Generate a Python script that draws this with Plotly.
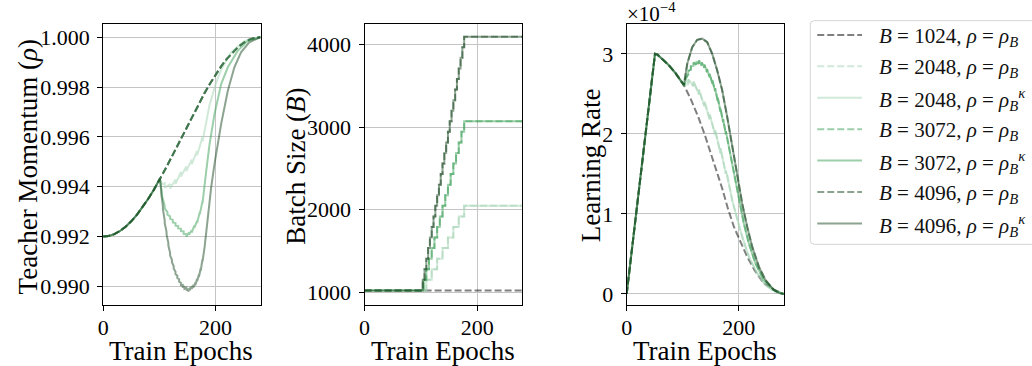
import plotly.graph_objects as go

# ---------------- data ----------------
# Teacher momentum: shared rho_B schedule (dashed curves), sampled every 10 epochs
mom_epochs = [0, 10, 20, 30, 40, 50, 60, 70, 80, 90, 100, 110, 120, 130, 140,
              150, 160, 170, 180, 190, 200, 210, 220, 230, 240, 250, 260, 270, 280]
mom_base = [0.992000, 0.992025, 0.992100, 0.992224, 0.992396, 0.992613, 0.992873,
            0.993172, 0.993506, 0.993872, 0.994264, 0.994679, 0.995110, 0.995552,
            0.996000, 0.996448, 0.996890, 0.997321, 0.997736, 0.998128, 0.998494,
            0.998828, 0.999127, 0.999387, 0.999604, 0.999776, 0.999900, 0.999975,
            1.000000]

# rho_B^kappa curves after the batch ramp starts (epoch > 100)
mom_k2048_epochs = [101, 105, 109.6, 109.6, 119.2, 119.2, 128.8, 128.8, 138.4, 138.4,
                    148, 148, 157.6, 157.6, 167.2, 167.2, 176.8, 176.8, 181, 189,
                    200, 210, 228, 251, 280]
mom_k2048 = [0.99432, 0.99410, 0.99414, 0.99396, 0.99411, 0.99393, 0.99429, 0.99411,
             0.99459, 0.99441, 0.99481, 0.99463, 0.99509, 0.99491, 0.99544, 0.99526,
             0.99599, 0.99581, 0.99635, 0.99725, 0.99810, 0.99870, 0.99940, 0.99984,
             1.00000]
mom_k3072_epochs = [101, 104.8, 104.8, 109.6, 109.6, 114.4, 114.4, 119.2, 119.2, 124, 124,
                    128.8, 128.8, 133.6, 133.6, 138.4, 138.4, 143.2, 143.2, 148, 148,
                    152.8, 152.8, 157.6, 157.6, 162.4, 162.4, 167.2, 167.2, 172, 172,
                    176.8, 176.8, 183.5, 189.4, 198.2, 210, 221.8, 239.4, 257, 280]
mom_k3072 = [0.99432, 0.99374, 0.99364, 0.99323, 0.99313, 0.99298, 0.99288, 0.99281,
             0.99271, 0.99267, 0.99257, 0.99254, 0.99244, 0.99243, 0.99233, 0.99232,
             0.99222, 0.99221, 0.99211, 0.99210, 0.99200, 0.99217, 0.99207, 0.99226,
             0.99216, 0.99245, 0.99235, 0.99264, 0.99254, 0.99299, 0.99289, 0.99343,
             0.99333, 0.99465, 0.99572, 0.99692, 0.99812, 0.99879, 0.99945, 0.99984,
             1.00000]
mom_k4096_epochs = [101, 103.2, 103.2, 106.4, 106.4, 109.6, 109.6, 112.8, 112.8, 116, 116,
                    119.2, 119.2, 122.4, 122.4, 125.6, 125.6, 128.8, 128.8, 132, 132,
                    135.2, 135.2, 138.4, 138.4, 141.6, 141.6, 144.8, 144.8, 148, 148,
                    151.2, 151.2, 154.4, 154.4, 157.6, 157.6, 160.8, 160.8, 164, 164,
                    167.2, 167.2, 170.4, 170.4, 173.6, 173.6, 176.8, 176.8, 180.6,
                    186.4, 192.3, 198.2, 210, 221.8, 233.5, 245.3, 260, 280]
mom_k4096 = [0.99432, 0.99386, 0.99376, 0.99320, 0.99310, 0.99264, 0.99254, 0.99219,
             0.99209, 0.99175, 0.99165, 0.99134, 0.99124, 0.99107, 0.99097, 0.99081,
             0.99071, 0.99059, 0.99049, 0.99044, 0.99034, 0.99029, 0.99019, 0.99015,
             0.99005, 0.99006, 0.98996, 0.99001, 0.98991, 0.98995, 0.98985, 0.98990,
             0.98980, 0.98995, 0.98985, 0.99001, 0.98991, 0.99006, 0.98996, 0.99015,
             0.99005, 0.99031, 0.99021, 0.99048, 0.99038, 0.99073, 0.99063, 0.99110,
             0.99100, 0.99159, 0.99279, 0.99399, 0.99492, 0.99652, 0.99785, 0.99879,
             0.99939, 0.99979, 1.00000]

# Batch size staircases (value holds until next epoch)
bs1024_epochs = [0, 280]
bs1024 = [1024, 1024]
bs2048_epochs = [0, 109.6, 119.2, 128.8, 138.4, 148, 157.6, 167.2, 176.8, 280]
bs2048 = [1024, 1152, 1280, 1408, 1536, 1664, 1792, 1920, 2048, 2048]
bs3072_epochs = [0, 104.8, 109.6, 114.4, 119.2, 124, 128.8, 133.6, 138.4, 143.2, 148,
                 152.8, 157.6, 162.4, 167.2, 172, 176.8, 280]
bs3072 = [1024, 1152, 1280, 1408, 1536, 1664, 1792, 1920, 2048, 2176, 2304, 2432,
          2560, 2688, 2816, 2944, 3072, 3072]
bs4096_epochs = [0, 103.2, 106.4, 109.6, 112.8, 116, 119.2, 122.4, 125.6, 128.8, 132,
                 135.2, 138.4, 141.6, 144.8, 148, 151.2, 154.4, 157.6, 160.8, 164,
                 167.2, 170.4, 173.6, 176.8, 280]
bs4096 = [1024, 1152, 1280, 1408, 1536, 1664, 1792, 1920, 2048, 2176, 2304, 2432, 2560,
          2688, 2816, 2944, 3072, 3200, 3328, 3456, 3584, 3712, 3840, 3968, 4096, 4096]

# Learning rate (units of 1e-4): shared warmup/decay part, then per batch size
lr_common_epochs = [0, 50.5, 55, 63.5, 75, 87, 99]
lr_common = [0.0, 3.0, 2.99, 2.93, 2.86, 2.76, 2.65]
lr1024_epochs = [102, 113.9, 127.6, 139.5, 149.5, 159.6, 170.3, 180.4, 191.1, 202.8,
                 214.8, 227.8, 244.4, 263.4, 280]
lr1024 = [2.61, 2.44, 2.212, 1.983, 1.775, 1.546, 1.318, 1.069, 0.840, 0.653, 0.466,
          0.299, 0.133, 0.05, 0.0]
lr2048_epochs = [102, 109.6, 109.6, 119.2, 119.2, 128.8, 128.8, 138.4, 138.4, 148, 148,
                 157.6, 157.6, 167.2, 167.2, 176.8, 176.8, 179.2, 188.1, 197, 205.9,
                 217.8, 232.6, 247.3, 264, 280]
lr2048 = [2.61, 2.62, 2.68, 2.597, 2.657, 2.493, 2.553, 2.349, 2.409, 2.182, 2.242,
          1.991, 2.051, 1.762, 1.822, 1.50, 1.54, 1.48, 1.172, 0.94, 0.716, 0.466,
          0.258, 0.112, 0.03, 0.0]
lr3072_epochs = [102, 104.8, 104.8, 109.6, 109.6, 114.4, 114.4, 119.2, 119.2, 124, 124,
                 128.8, 128.8, 133.6, 133.6, 138.4, 138.4, 143.2, 143.2, 148, 148,
                 152.8, 152.8, 157.6, 157.6, 162.4, 162.4, 167.2, 167.2, 172, 172,
                 176.8, 176.8, 182.2, 191.1, 200, 208.9, 217.8, 229.5, 244.4, 262.3, 280]
lr3072 = [2.61, 2.647, 2.687, 2.744, 2.784, 2.805, 2.845, 2.850, 2.890, 2.866, 2.906,
          2.877, 2.917, 2.854, 2.894, 2.827, 2.867, 2.771, 2.811, 2.709, 2.749, 2.630,
          2.670, 2.532, 2.572, 2.409, 2.449, 2.279, 2.319, 2.145, 2.185, 1.994, 2.034,
          1.838, 1.505, 1.172, 0.881, 0.632, 0.383, 0.175, 0.05, 0.0]
lr4096_epochs = [102, 108, 116.9, 125.8, 134.7, 143.6, 152.5, 161.4, 170.3, 179.2,
                 188.1, 197, 205.9, 214.8, 223.7, 235.6, 247.3, 262.3, 272, 280]
lr4096 = [2.61, 2.877, 3.085, 3.176, 3.19, 3.147, 3.0, 2.793, 2.544, 2.212, 1.838,
          1.464, 1.131, 0.840, 0.591, 0.342, 0.175, 0.05, 0.01, 0.0]

legend_labels = [
    "<i>B</i> = 1024, <i>ρ</i> = <i>ρ<sub>B</sub></i>",
    "<i>B</i> = 2048, <i>ρ</i> = <i>ρ<sub>B</sub></i>",
    "<i>B</i> = 2048, <i>ρ</i> = <i>ρ<sub>B</sub><sup>κ</sup></i>",
    "<i>B</i> = 3072, <i>ρ</i> = <i>ρ<sub>B</sub></i>",
    "<i>B</i> = 3072, <i>ρ</i> = <i>ρ<sub>B</sub><sup>κ</sup></i>",
    "<i>B</i> = 4096, <i>ρ</i> = <i>ρ<sub>B</sub></i>",
    "<i>B</i> = 4096, <i>ρ</i> = <i>ρ<sub>B</sub><sup>κ</sup></i>",
]

# ---------------- style ----------------
FONT = "Liberation Serif"
col = {
    1024: "rgba(0,0,0,0.5)",
    2048: "rgba(161,211,177,0.5)",
    3072: "rgba(57,159,85,0.5)",
    4096: "rgba(25,72,33,0.5)",
}
DASH = "7px,3px"
LW = 2
series_style = [(col[1024], DASH), (col[2048], DASH), (col[2048], "solid"),
                (col[3072], DASH), (col[3072], "solid"), (col[4096], DASH),
                (col[4096], "solid")]

W, H = 1032, 366


def px_x(v):
    return v / W


def px_y(v):
    return 1 - v / H


fig = go.Figure()


def add(x, y, xa, ya, idx, shape="linear"):
    color, dash = series_style[idx]
    fig.add_trace(go.Scatter(
        x=x, y=y, xaxis=xa, yaxis=ya, mode="lines",
        line=dict(color=color, width=LW, dash=dash, shape=shape),
        name=legend_labels[idx], legendgroup=str(idx),
        showlegend=False, hoverinfo="skip"))


# panel 1: teacher momentum
pre_e = mom_epochs[:11]
pre_v = mom_base[:11]
add(mom_epochs, mom_base, "x", "y", 0)
add(mom_epochs, mom_base, "x", "y", 1)
add(pre_e + mom_k2048_epochs, pre_v + mom_k2048, "x", "y", 2)
add(mom_epochs, mom_base, "x", "y", 3)
add(pre_e + mom_k3072_epochs, pre_v + mom_k3072, "x", "y", 4)
add(mom_epochs, mom_base, "x", "y", 5)
add(pre_e + mom_k4096_epochs, pre_v + mom_k4096, "x", "y", 6)

# panel 2: batch size
add(bs1024_epochs, bs1024, "x2", "y2", 0, "hv")
add(bs2048_epochs, bs2048, "x2", "y2", 1, "hv")
add(bs2048_epochs, bs2048, "x2", "y2", 2, "hv")
add(bs3072_epochs, bs3072, "x2", "y2", 3, "hv")
add(bs3072_epochs, bs3072, "x2", "y2", 4, "hv")
add(bs4096_epochs, bs4096, "x2", "y2", 5, "hv")
add(bs4096_epochs, bs4096, "x2", "y2", 6, "hv")

# panel 3: learning rate
add(lr_common_epochs + lr1024_epochs, lr_common + lr1024, "x3", "y3", 0)
add(lr_common_epochs + lr2048_epochs, lr_common + lr2048, "x3", "y3", 1)
add(lr_common_epochs + lr2048_epochs, lr_common + lr2048, "x3", "y3", 2)
add(lr_common_epochs + lr3072_epochs, lr_common + lr3072, "x3", "y3", 3)
add(lr_common_epochs + lr3072_epochs, lr_common + lr3072, "x3", "y3", 4)
add(lr_common_epochs + lr4096_epochs, lr_common + lr4096, "x3", "y3", 5)
add(lr_common_epochs + lr4096_epochs, lr_common + lr4096, "x3", "y3", 6)

axis_common = dict(
    showline=True, linecolor="black", linewidth=1.2, mirror=True,
    ticks="outside", ticklen=5, tickwidth=1.2, tickcolor="black",
    showgrid=True, gridcolor="#c4c4c4", gridwidth=1, zeroline=False,
    tickfont=dict(family=FONT, size=22, color="black"),
)
ydom = [px_y(306), px_y(24)]
xdoms = [[px_x(97.7), px_x(256)], [px_x(360.7), px_x(519.3)], [px_x(624.3), px_x(782.3)]]

layout = dict(
    width=W, height=H, margin=dict(l=0, r=0, t=0, b=0),
    paper_bgcolor="white", plot_bgcolor="white",
    font=dict(family=FONT, size=20, color="black"),
    showlegend=False,
)
for i, name in enumerate(["xaxis", "xaxis2", "xaxis3"]):
    layout[name] = dict(axis_common, domain=xdoms[i], range=[0, 280],
                        tickvals=[0, 200], anchor=["y", "y2", "y3"][i],
                        ticklabelstandoff=-3)
layout["yaxis"] = dict(axis_common, domain=ydom, range=[0.98925, 1.00053],
                       tickvals=[0.990, 0.992, 0.994, 0.996, 0.998, 1.000],
                       tickformat=".3f", anchor="x", ticklabelstandoff=3)
layout["yaxis2"] = dict(axis_common, domain=ydom, range=[845, 4251],
                        tickvals=[1000, 2000, 3000, 4000], anchor="x2",
                        ticklabelstandoff=3)
layout["yaxis3"] = dict(axis_common, domain=ydom, range=[-0.14, 3.374],
                        tickvals=[0, 1, 2, 3], anchor="x3", ticklabelstandoff=3)
fig.update_layout(**layout)

ann_font = dict(family=FONT, size=27, color="black")
annotations = [
    dict(text="Teacher Momentum (<i>ρ</i>)", x=px_x(22), y=px_y(167), textangle=-90),
    dict(text="Batch Size (<i>B</i>)", x=px_x(291), y=px_y(167), textangle=-90),
    dict(text="Learning Rate", x=px_x(588), y=px_y(166), textangle=-90),
    dict(text="Train Epochs", x=px_x(176.5), y=px_y(352)),
    dict(text="Train Epochs", x=px_x(439.5), y=px_y(352)),
    dict(text="Train Epochs", x=px_x(703), y=px_y(352)),
]
for a in annotations:
    fig.add_annotation(xref="paper", yref="paper", showarrow=False,
                       xanchor="center", yanchor="middle", font=ann_font, **a)
fig.add_annotation(text="×10<sup>−4</sup>", xref="paper", yref="paper",
                   x=px_x(623), y=px_y(13), xanchor="left", yanchor="middle",
                   showarrow=False, font=dict(family=FONT, size=21, color="black"))

# ---------------- legend (drawn as a framed key) ----------------
bx0, by0, bx1, by1, r = 809, 20.7, 1045, 245, 4
path = (f"M{px_x(bx0 + r)},{px_y(by0)} L{px_x(bx1 - r)},{px_y(by0)} "
        f"Q{px_x(bx1)},{px_y(by0)} {px_x(bx1)},{px_y(by0 + r)} "
        f"L{px_x(bx1)},{px_y(by1 - r)} Q{px_x(bx1)},{px_y(by1)} {px_x(bx1 - r)},{px_y(by1)} "
        f"L{px_x(bx0 + r)},{px_y(by1)} Q{px_x(bx0)},{px_y(by1)} {px_x(bx0)},{px_y(by1 - r)} "
        f"L{px_x(bx0)},{px_y(by0 + r)} Q{px_x(bx0)},{px_y(by0)} {px_x(bx0 + r)},{px_y(by0)} Z")
fig.add_shape(type="path", path=path, xref="paper", yref="paper",
              line=dict(color="#d4d4d4", width=1), fillcolor="rgba(255,255,255,0.8)")
for i, label in enumerate(legend_labels):
    ly = 35 + 31.5 * i
    color, dash = series_style[i]
    fig.add_shape(type="line", xref="paper", yref="paper",
                  x0=px_x(816), x1=px_x(861), y0=px_y(ly), y1=px_y(ly),
                  line=dict(color=color, width=LW, dash=DASH if dash != "solid" else "solid"))
    fig.add_annotation(text=label, xref="paper", yref="paper", x=px_x(876), y=px_y(ly + 2),
                       xanchor="left", yanchor="middle", showarrow=False,
                       font=dict(family=FONT, size=21, color="#111"))

fig.write_html("out.html")
